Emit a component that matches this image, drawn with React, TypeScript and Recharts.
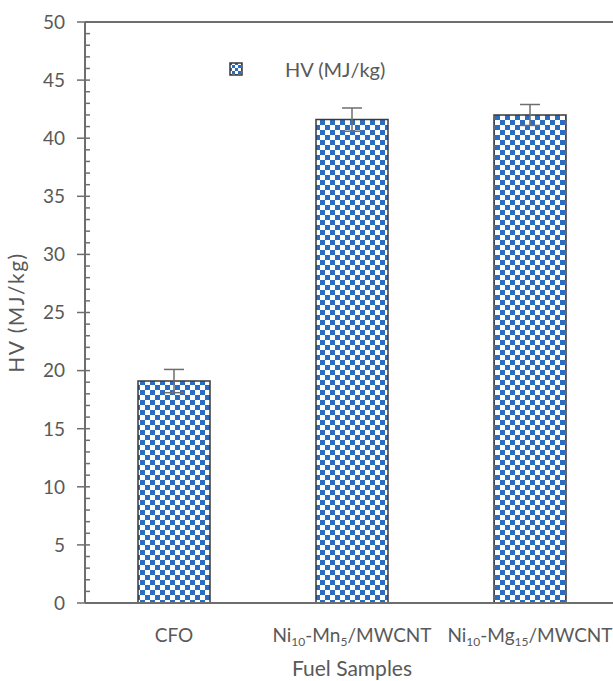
import { Bar, BarChart, ErrorBar, Legend, ReferenceLine, XAxis, YAxis } from "recharts";

const samples = ["CFO", "Ni_{10}-Mn_{5}/MWCNT", "Ni_{10}-Mg_{15}/MWCNT"];
const hvValues = [19.1, 41.6, 42.0];
const hvErrors = [1.0, 1.0, 0.9];
const majorStep = 5;
const yTicks = Array.from({ length: 51 }, (_, i) => i);

const data = samples.map((name, i) => ({ name, hv: hvValues[i], err: hvErrors[i] }));

const TEXT = "#595959";
const AXIS = "#6e6e6e";
const BLUE = "#2a6cc0";
const FONT = "Lato, 'Open Sans', sans-serif";

// split "Ni_{10}" style names into normal / subscript runs
const splitSub = (s: string) => {
  const out: Array<{ t: string; sub: boolean }> = [];
  const re = /_\{([^}]*)\}/g;
  let last = 0;
  let m: RegExpExecArray | null;
  while ((m = re.exec(s))) {
    if (m.index > last) out.push({ t: s.slice(last, m.index), sub: false });
    out.push({ t: m[1], sub: true });
    last = m.index + m[0].length;
  }
  if (last < s.length) out.push({ t: s.slice(last), sub: false });
  return out;
};

const XTick = ({ x, y, payload }: any) => {
  let shift = 0;
  return (
    <text x={x} y={y + 31} textAnchor="middle" fill={TEXT} fontSize={19} fontFamily={FONT}>
      {splitSub(payload.value).map((p, i) => {
        const dy = p.sub ? 4 - shift : -shift;
        shift = p.sub ? 4 : 0;
        return (
          <tspan key={i} dy={dy} fontSize={p.sub ? 12 : 19}>
            {p.t}
          </tspan>
        );
      })}
    </text>
  );
};

// major ticks cross the axis and carry a label, minor ticks sit inside only
const YTick = ({ x, y, payload }: any) => {
  const major = payload.value % majorStep === 0;
  return (
    <g>
      <line x1={major ? x - 8 : x} x2={x + 5} y1={y} y2={y} stroke={AXIS} strokeWidth={1.5} />
      {major && (
        <text x={x - 20} y={y} dy="0.36em" textAnchor="end" fill={TEXT} fontSize={19} fontFamily={FONT}>
          {payload.value}
        </text>
      )}
    </g>
  );
};

const YTitle = ({ viewBox }: any) => {
  const cx = viewBox.x + 24;
  const cy = viewBox.y + viewBox.height / 2;
  return (
    <text x={cx} y={cy} transform={`rotate(-90 ${cx} ${cy})`} textAnchor="middle" fill={TEXT} fontSize={21} letterSpacing={1.5} fontFamily={FONT}>
      HV (MJ/kg)
    </text>
  );
};

const XTitle = ({ viewBox }: any) => (
  <text x={viewBox.x + viewBox.width / 2} y={viewBox.y + 73} textAnchor="middle" fill={TEXT} fontSize={21} fontFamily={FONT}>
    Fuel Samples
  </text>
);

const LegendBox = () => (
  <div style={{ display: "flex", alignItems: "center", fontFamily: FONT, fontSize: 20, color: TEXT }}>
    <svg width={15} height={15} style={{ marginRight: 41 }}>
      <rect x={1} y={1} width={12} height={12} fill="url(#checkerSmall)" stroke="#3a3a3a" strokeWidth={1.5} />
    </svg>
    <span>HV (MJ/kg)</span>
  </div>
);

export default function App() {
  return (
    <div style={{ position: "absolute", left: 0, top: 0, width: 613, height: 681, overflow: "hidden", background: "#fff" }}>
      <svg width={0} height={0} style={{ position: "absolute" }}>
        <defs>
          <pattern id="checker" width={10} height={10} patternUnits="userSpaceOnUse">
            <rect width={10} height={10} fill="#fff" />
            <rect width={5} height={5} fill={BLUE} />
            <rect x={5} y={5} width={5} height={5} fill={BLUE} />
          </pattern>
          <pattern id="checkerSmall" width={6} height={6} patternUnits="userSpaceOnUse">
            <rect width={6} height={6} fill="#fff" />
            <rect width={3} height={3} fill={BLUE} />
            <rect x={3} y={3} width={3} height={3} fill={BLUE} />
          </pattern>
        </defs>
      </svg>
      <BarChart width={620} height={681} data={data} margin={{ top: 22, right: 1, left: 0, bottom: 0 }}>
        <XAxis
          dataKey="name"
          interval={0}
          height={78}
          tickLine={false}
          axisLine={{ stroke: AXIS, strokeWidth: 2 }}
          tick={<XTick />}
          label={<XTitle />}
        />
        <YAxis
          width={85}
          domain={[0, 50]}
          ticks={yTicks}
          interval={0}
          tickSize={0}
          tickMargin={0}
          tickLine={false}
          axisLine={{ stroke: AXIS, strokeWidth: 2 }}
          tick={<YTick />}
          label={<YTitle />}
        />
        <ReferenceLine y={50} stroke={AXIS} strokeWidth={2} />
        <Legend
          layout="vertical"
          align="center"
          verticalAlign="middle"
          content={<LegendBox />}
          wrapperStyle={{ left: 229, top: 57, width: 220 }}
        />
        <Bar dataKey="hv" barSize={72} fill="url(#checker)" stroke="#3a3a3a" strokeWidth={1.5} isAnimationActive={false}>
          <ErrorBar dataKey="err" width={10} stroke="#6e6e6e" strokeWidth={1.5} isAnimationActive={false} />
        </Bar>
      </BarChart>
    </div>
  );
}
